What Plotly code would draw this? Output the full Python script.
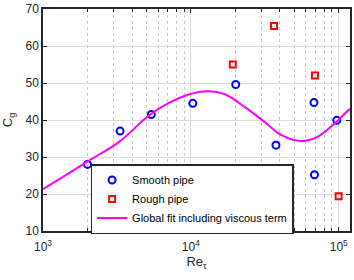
import plotly.graph_objects as go

# Smooth pipe data
smooth_re = [2000, 3320, 5400, 10300, 20100, 37600, 68000, 68500, 97000]
smooth_cg = [28.0, 37.0, 41.5, 44.5, 49.6, 33.2, 44.7, 25.2, 39.9]

# Rough pipe data
rough_re = [19200, 36500, 69000, 99800]
rough_cg = [55.0, 65.4, 52.0, 19.4]

# Global fit curve
fit_re = [1000, 1290, 2000, 3270, 5200, 7100, 9660, 12800, 17100,
          23300, 31700, 41000, 55800, 72300, 93500, 115000, 119000]
fit_cg = [21.3, 24.0, 28.8, 34.1, 41.2, 44.6, 46.9, 47.8, 46.9,
          43.4, 39.4, 35.9, 34.3, 35.5, 39.0, 42.5, 43.0]

x_tickvals = [1000, 10000, 100000]
x_ticktext = ["10<sup>3</sup>", "10<sup>4</sup>", "10<sup>5</sup>"]
x_minorvals = [2000, 3000, 4000, 5000, 6000, 7000, 8000, 9000,
               20000, 30000, 40000, 50000, 60000, 70000, 80000, 90000]
y_tickvals = [10, 20, 30, 40, 50, 60, 70]

fig = go.Figure()
fig.add_trace(go.Scatter(
    x=smooth_re, y=smooth_cg, mode="markers", name="Smooth pipe",
    marker=dict(symbol="circle-open", color="#0000ff", size=7, line=dict(width=2))))
fig.add_trace(go.Scatter(
    x=rough_re, y=rough_cg, mode="markers", name="Rough pipe",
    marker=dict(symbol="square-open", color="#ff0000", size=6, line=dict(width=2))))
fig.add_trace(go.Scatter(
    x=fit_re, y=fit_cg, mode="lines", name="Global fit including viscous term",
    line=dict(color="#ff00ff", width=2, shape="spline", smoothing=1.0)))

axis_font = dict(family="Liberation Sans, Arial, sans-serif", size=12, color="#262626")

fig.update_layout(
    width=354, height=280,
    margin=dict(l=43, r=2, t=5, b=49),
    paper_bgcolor="white", plot_bgcolor="white",
    font=axis_font,
    showlegend=True,
    legend=dict(
        x=0.155, y=0.144, xanchor="left", yanchor="middle",
        bgcolor="white", bordercolor="#262626", borderwidth=1.5,
        font=dict(family="Liberation Sans, Arial, sans-serif", size=11, color="#000000"),
        tracegroupgap=0, itemwidth=30),
    xaxis=dict(
        type="log", range=[3, 5.076],
        showline=True, linecolor="#262626", linewidth=1.5, mirror="ticks",
        ticks="inside", ticklen=4, tickcolor="#262626",
        tickvals=x_tickvals, ticktext=x_ticktext,
        ticklabelstandoff=4,
        showgrid=True, gridcolor="#dcdcdc", gridwidth=1,
        minor=dict(tickvals=x_minorvals, ticks="inside", ticklen=3, tickcolor="#262626",
                   showgrid=True, gridcolor="#c8c8c8", griddash="dot", gridwidth=1),
        zeroline=False,
        ticklabeloverflow="allow",
        title=dict(text="Re<sub>τ</sub>", standoff=4, font=dict(size=13)),
    ),
    yaxis=dict(
        range=[10, 70], tickvals=y_tickvals,
        showline=True, linecolor="#262626", linewidth=1.5, mirror="ticks",
        ticks="inside", ticklen=4, tickcolor="#262626",
        showgrid=True, gridcolor="#dcdcdc", gridwidth=1,
        zeroline=False,
        ticklabeloverflow="allow",
        title=dict(text="C<sub>g</sub>", standoff=10, font=dict(size=13)),
    ),
)

fig.write_html("out.html",
               config={"displayModeBar": False},
               post_script="document.body.style.margin='0px';document.body.style.overflow='hidden';")
